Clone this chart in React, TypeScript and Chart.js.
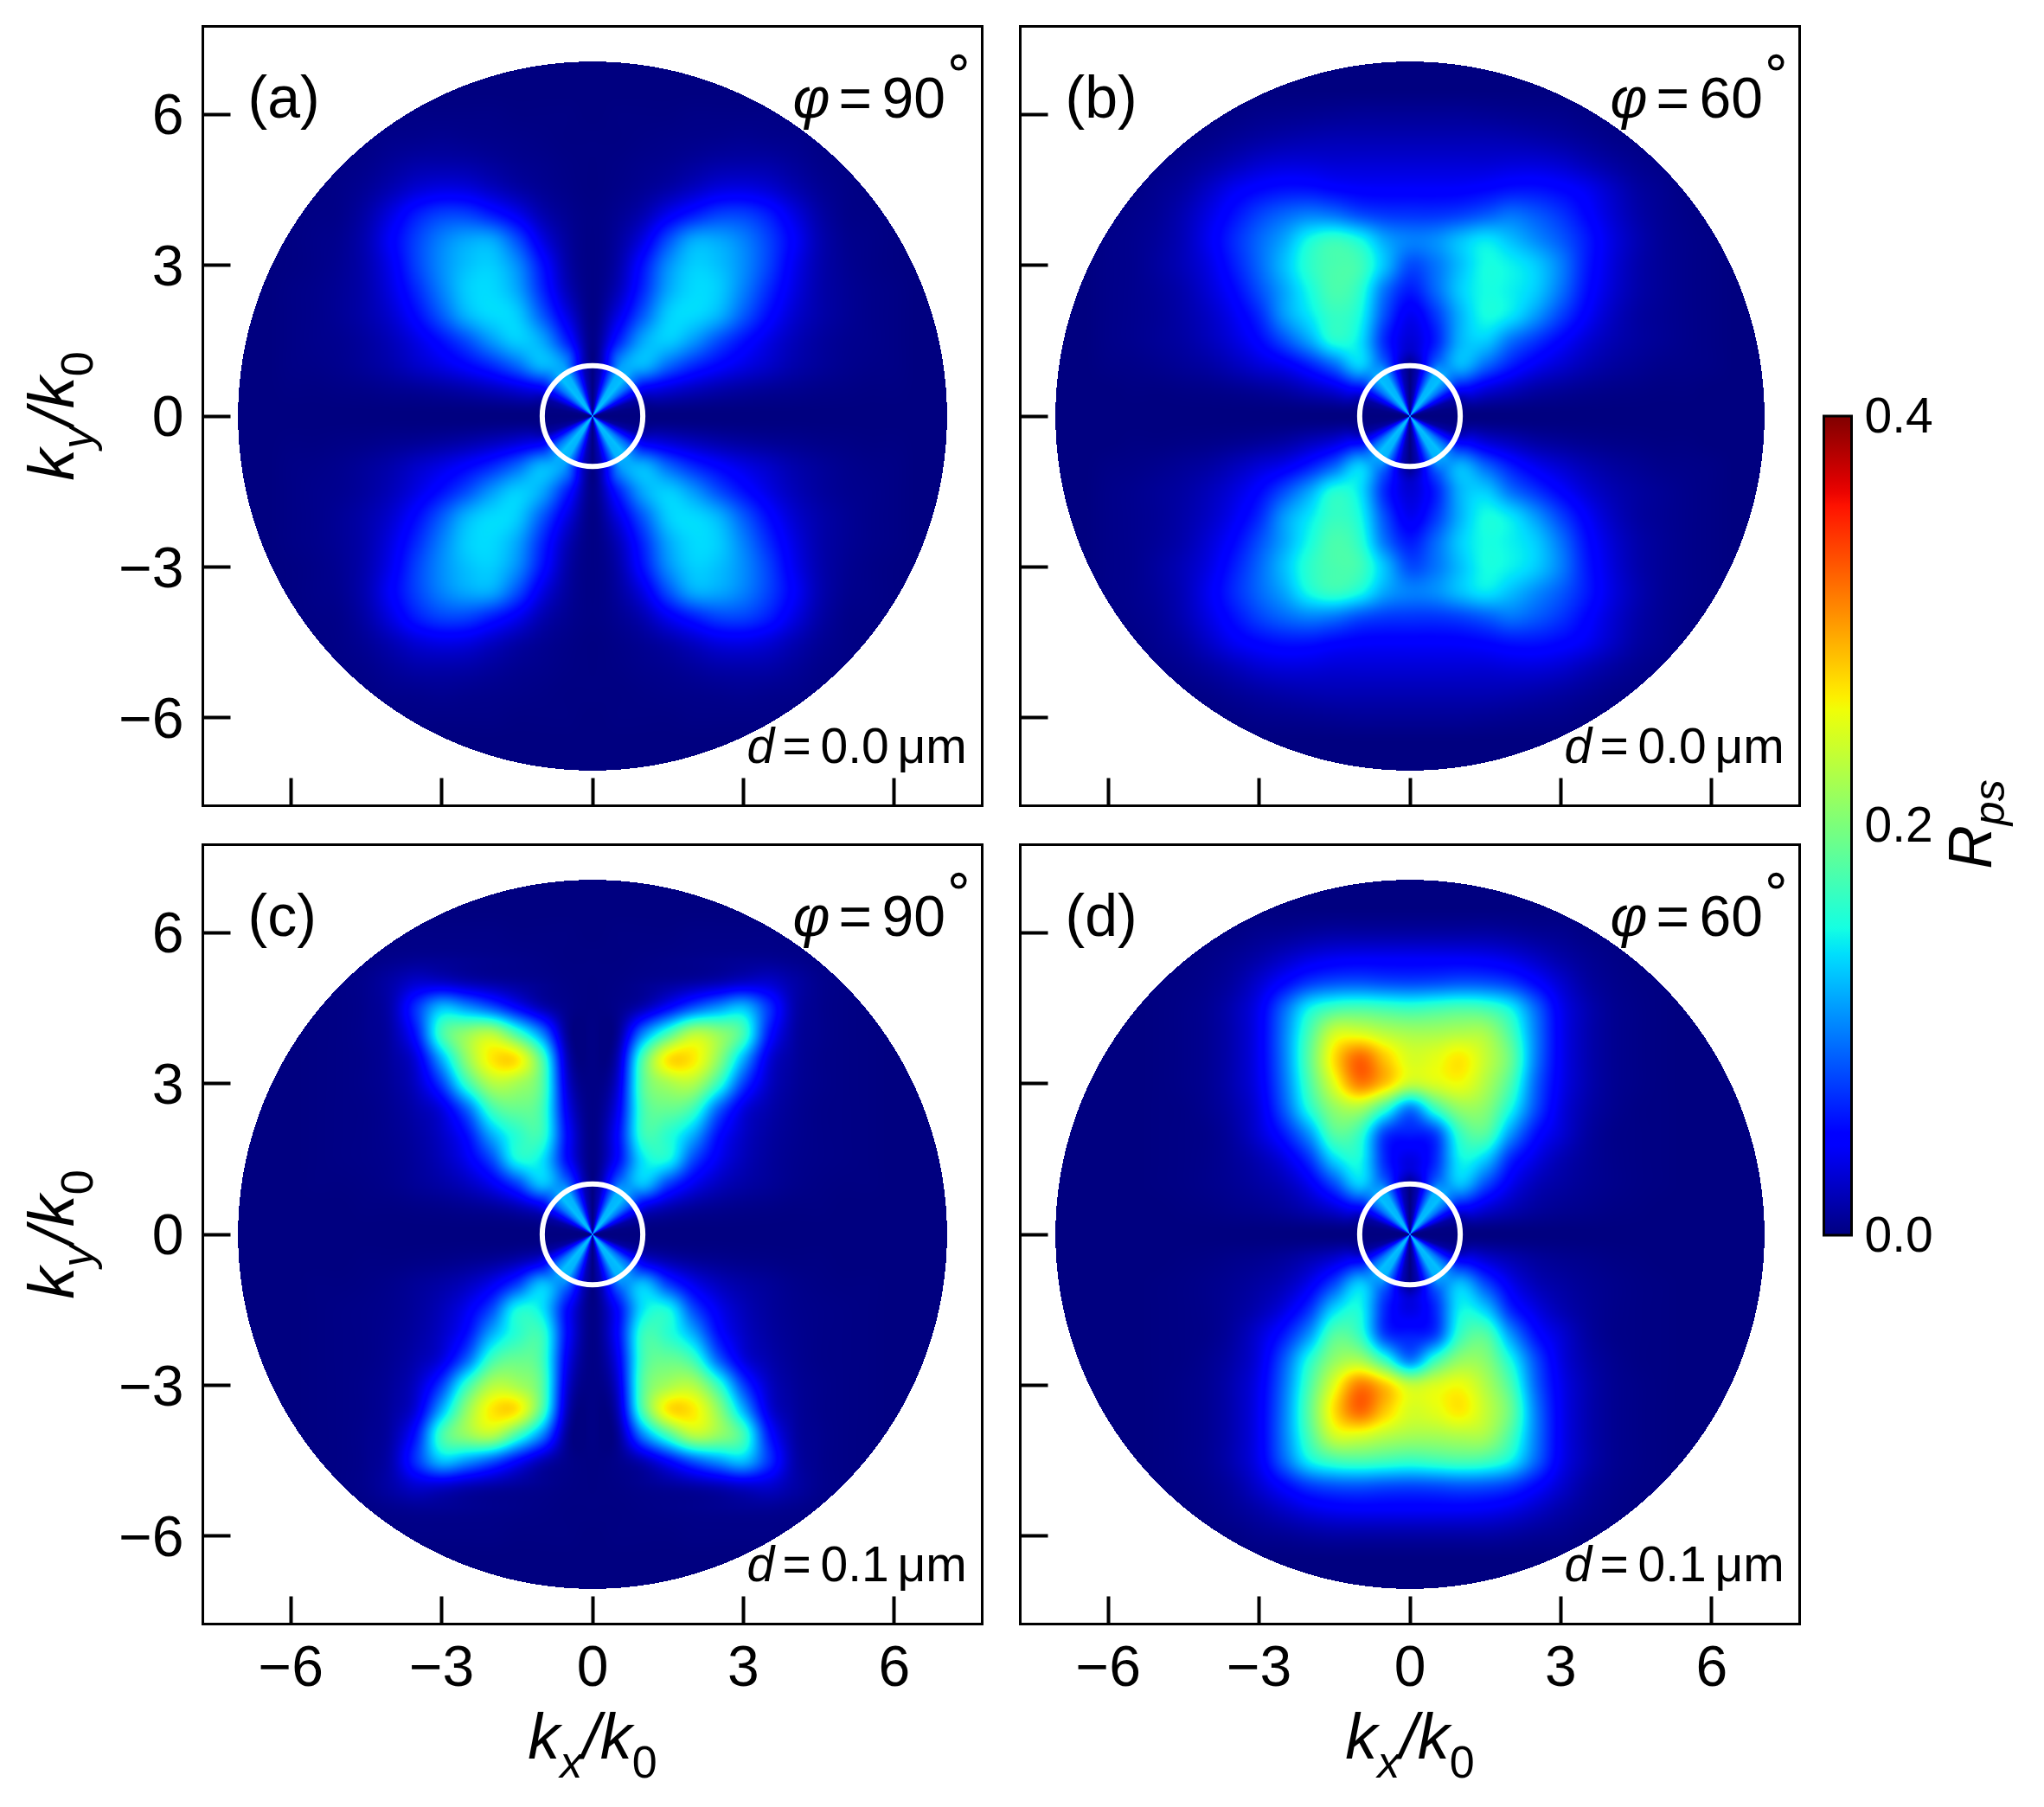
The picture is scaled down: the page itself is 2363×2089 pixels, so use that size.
import React, { useEffect, useRef } from "react";
import { Chart, registerables } from "chart.js";

Chart.register(...registerables);

// ---------- data (Rps values) ----------
const tickValues = [-6, -3, 0, 3, 6];
const colorbarTicks = [0, 0.2, 0.4];
const colorMax = 0.4;
const gridKx = [-6, -5.5, -5, -4.5, -4, -3.5, -3, -2.5, -2, -1.5, -1, -0.5, 0, 0.5, 1, 1.5, 2, 2.5, 3, 3.5, 4, 4.5, 5, 5.5, 6];
const gridKy = [0, 0.5, 1, 1.5, 2, 2.5, 3, 3.5, 4, 4.5, 5, 5.5, 6];
const spokeAngles = [0, 10, 20, 30, 40, 50, 60, 70, 80, 90];
const spokeValues = [0, 0.002, 0.012, 0.05, 0.095, 0.125, 0.12, 0.07, 0.02, 0];

// Panels (a), (c): one quadrant, kx = 0..6 along a row, ky = 0..6 down the rows
const panelA = [
  [0, 0, 0, 0, 0, 0, 0, 0, 0, 0, 0, 0, 0],
  [0, .07, .04, .028, .02, .014, .01, .007, .005, .003, .002, .001, .001],
  [0, .10, .12, .09, .065, .048, .035, .025, .015, .009, .005, .003, .002],
  [.003, .06, .115, .13, .11, .08, .055, .035, .02, .011, .006, .004, .002],
  [.002, .035, .085, .13, .135, .12, .085, .052, .028, .015, .008, .004, .002],
  [.002, .02, .065, .115, .135, .13, .10, .065, .035, .016, .008, .004, .002],
  [.002, .014, .055, .105, .13, .125, .105, .075, .04, .017, .007, .003, .001],
  [.002, .01, .035, .08, .115, .115, .10, .075, .045, .018, .006, .003, .001],
  [.002, .006, .017, .04, .06, .075, .075, .06, .035, .014, .004, .002, .001],
  [.001, .003, .007, .014, .024, .034, .036, .03, .018, .008, .003, .001, 0],
  [.001, .002, .004, .006, .01, .014, .015, .014, .009, .004, .002, .001, 0],
  [.001, .001, .002, .003, .004, .005, .006, .005, .004, .002, .001, 0, 0],
  [0, .001, .001, .001, .002, .002, .002, .002, .001, .001, 0, 0, 0],
];
const panelC = [
  [0, 0, 0, 0, 0, 0, 0, 0, 0, 0, 0, 0, 0],
  [0, .06, .03, .015, .008, .005, .003, .002, .001, .001, 0, 0, 0],
  [0, .08, .125, .075, .04, .022, .013, .008, .004, .002, .001, .001, 0],
  [.002, .05, .14, .15, .08, .04, .02, .01, .005, .003, .002, .001, 0],
  [.002, .05, .165, .16, .12, .055, .025, .012, .006, .003, .002, .001, 0],
  [.002, .04, .17, .19, .17, .09, .035, .016, .007, .003, .002, .001, 0],
  [.002, .03, .18, .22, .225, .165, .075, .025, .009, .004, .002, .001, 0],
  [.002, .02, .175, .265, .265, .21, .12, .035, .011, .004, .002, .001, 0],
  [.002, .008, .10, .17, .225, .21, .17, .06, .014, .005, .002, .001, 0],
  [.001, .004, .02, .05, .085, .11, .125, .07, .017, .005, .002, .001, 0],
  [.001, .002, .005, .009, .014, .02, .028, .028, .014, .005, .002, .001, 0],
  [.001, .001, .002, .003, .004, .005, .006, .006, .004, .002, .001, 0, 0],
  [0, .001, .001, .001, .002, .002, .002, .002, .001, .001, 0, 0, 0],
];
// Panels (b), (d): upper half, kx = -6..6 along a row, ky = 0..6 down the rows
const panelB = [
  [0, 0, 0, 0, 0, 0, 0, 0, 0, 0, 0, 0, 0, 0, 0, 0, 0, 0, 0, 0, 0, 0, 0, 0, 0],
  [0, .001, .001, .002, .003, .005, .008, .012, .02, .03, .05, .07, 0, .07, .05, .03, .02, .012, .008, .005, .003, .002, .001, .001, 0],
  [.002, .003, .005, .008, .012, .02, .03, .04, .06, .09, .13, .08, .02, .08, .12, .09, .06, .04, .028, .018, .011, .007, .004, .003, .002],
  [.003, .005, .008, .012, .02, .032, .05, .08, .115, .155, .14, .065, .03, .06, .12, .13, .095, .07, .048, .03, .018, .011, .007, .004, .002],
  [.003, .005, .008, .014, .024, .04, .065, .11, .14, .165, .15, .08, .04, .07, .12, .15, .14, .11, .075, .045, .024, .012, .007, .004, .002],
  [.003, .005, .009, .016, .03, .05, .08, .115, .15, .175, .16, .095, .06, .09, .13, .15, .145, .13, .095, .055, .03, .015, .008, .004, .002],
  [.003, .005, .011, .02, .035, .06, .09, .125, .16, .175, .17, .125, .08, .095, .125, .15, .145, .13, .10, .06, .033, .016, .008, .004, .002],
  [.003, .005, .01, .02, .04, .065, .09, .115, .15, .165, .15, .115, .10, .105, .125, .14, .125, .105, .085, .06, .035, .018, .008, .004, .002],
  [.002, .004, .008, .018, .035, .055, .075, .09, .10, .095, .08, .072, .07, .07, .075, .085, .095, .085, .07, .05, .03, .015, .007, .003, .001],
  [.001, .002, .006, .012, .025, .04, .05, .056, .056, .05, .046, .045, .045, .045, .046, .05, .056, .056, .05, .04, .025, .012, .006, .002, .001],
  [.001, .001, .003, .006, .012, .02, .028, .032, .032, .03, .03, .03, .03, .03, .03, .03, .032, .032, .028, .02, .012, .006, .003, .001, 0],
  [0, .001, .001, .002, .004, .008, .012, .015, .017, .018, .018, .018, .018, .018, .018, .018, .017, .015, .012, .008, .004, .002, .001, 0, 0],
  [0, 0, 0, .001, .001, .002, .004, .005, .006, .007, .008, .008, .008, .008, .008, .007, .006, .005, .004, .002, .001, 0, 0, 0, 0],
];
const panelD = [
  [0, 0, 0, 0, 0, 0, 0, 0, 0, 0, 0, 0, 0, 0, 0, 0, 0, 0, 0, 0, 0, 0, 0, 0, 0],
  [0, 0, 0, .001, .002, .004, .006, .01, .018, .03, .05, .075, 0, .075, .05, .03, .018, .01, .006, .004, .002, .001, 0, 0, 0],
  [0, 0, .001, .002, .004, .007, .012, .02, .04, .08, .13, .08, .03, .08, .125, .08, .04, .02, .012, .007, .004, .002, .001, 0, 0],
  [0, 0, .001, .002, .004, .009, .018, .035, .07, .135, .15, .065, .035, .065, .145, .13, .065, .035, .018, .009, .004, .002, .001, 0, 0],
  [0, 0, .001, .002, .004, .012, .03, .06, .11, .18, .165, .075, .06, .075, .165, .18, .11, .055, .03, .012, .004, .002, .001, 0, 0],
  [0, 0, .001, .002, .006, .015, .035, .085, .155, .21, .22, .165, .10, .165, .21, .205, .15, .08, .035, .015, .006, .002, .001, 0, 0],
  [0, 0, .001, .003, .007, .018, .04, .095, .175, .25, .31, .28, .235, .245, .255, .225, .175, .09, .04, .018, .007, .003, .001, 0, 0],
  [0, 0, .001, .003, .007, .018, .042, .10, .185, .27, .32, .28, .245, .25, .265, .235, .19, .10, .042, .018, .007, .003, .001, 0, 0],
  [0, 0, .001, .003, .007, .018, .042, .10, .175, .24, .245, .23, .22, .22, .225, .22, .175, .10, .042, .018, .007, .003, .001, 0, 0],
  [0, 0, .001, .003, .007, .018, .04, .09, .145, .17, .175, .17, .165, .17, .175, .17, .145, .09, .04, .018, .007, .003, .001, 0, 0],
  [0, 0, .001, .002, .005, .012, .028, .05, .072, .082, .084, .08, .078, .08, .084, .082, .072, .05, .028, .012, .005, .002, .001, 0, 0],
  [0, 0, 0, .001, .003, .007, .014, .024, .034, .04, .042, .042, .042, .042, .042, .04, .034, .024, .014, .007, .003, .001, 0, 0, 0],
  [0, 0, 0, 0, .001, .002, .005, .007, .01, .012, .012, .012, .012, .012, .012, .012, .01, .007, .005, .002, .001, 0, 0, 0, 0],
];

// ---------- points for the scatter datasets ----------
type Pt = { x: number; y: number; v: number };
function pointsFromRows(rows: number[][]): Pt[] {
  const pts: Pt[] = [];
  const half = rows[0].length === 25;
  rows.forEach((row, j) => {
    const ky = gridKy[j];
    row.forEach((v, i) => {
      const kx = half ? gridKx[i] : gridKy[i];
      const xs = half || kx === 0 ? [kx] : [kx, -kx];
      const ys = ky === 0 ? [ky] : [ky, -ky];
      xs.forEach((x) => ys.forEach((y) => pts.push({ x, y, v })));
    });
  });
  return pts;
}

// ---------- colour map ----------
const jetR: [number, number][] = [[0, 0], [0.35, 0], [0.66, 1], [0.89, 1], [1, 0.5]];
const jetG: [number, number][] = [[0, 0], [0.125, 0], [0.375, 1], [0.64, 1], [0.91, 0], [1, 0]];
const jetB: [number, number][] = [[0, 0.5], [0.11, 1], [0.34, 1], [0.65, 0], [1, 0]];
function ramp(stops: [number, number][], t: number) {
  for (let i = 1; i < stops.length; i++) {
    if (t <= stops[i][0]) {
      const [a, va] = stops[i - 1];
      const [b, vb] = stops[i];
      return va + ((vb - va) * (t - a)) / (b - a);
    }
  }
  return stops[stops.length - 1][1];
}
function jet(t: number): [number, number, number] {
  const c = Math.max(0, Math.min(1, t));
  return [ramp(jetR, c) * 255, ramp(jetG, c) * 255, ramp(jetB, c) * 255];
}

// ---------- heat map shading through the chart's scales ----------
const DISC_RADIUS = 7.05;
function catmull(p0: number, p1: number, p2: number, p3: number, t: number) {
  return 0.5 * (2 * p1 + (p2 - p0) * t + (2 * p0 - 5 * p1 + 4 * p2 - p3) * t * t + (3 * p1 - p0 - 3 * p2 + p3) * t * t * t);
}
function makeSampler(points: Pt[]) {
  const n = 25;
  const g = new Float64Array(n * n);
  points.forEach((p) => {
    g[Math.round((p.y + 6) * 2) * n + Math.round((p.x + 6) * 2)] = p.v;
  });
  const at = (i: number, j: number) => (i < 0 || j < 0 || i >= n || j >= n ? 0 : g[j * n + i]);
  return (x: number, y: number) => {
    const fx = (x + 6) * 2;
    const fy = (y + 6) * 2;
    const i = Math.floor(fx);
    const j = Math.floor(fy);
    const tx = fx - i;
    const ty = fy - j;
    const col = [0, 1, 2, 3].map((m) =>
      catmull(at(i - 1, j - 1 + m), at(i, j - 1 + m), at(i + 1, j - 1 + m), at(i + 2, j - 1 + m), tx)
    );
    return catmull(col[0], col[1], col[2], col[3], ty);
  };
}
function spokeAt(x: number, y: number) {
  const deg = (Math.atan2(Math.abs(y), Math.abs(x)) * 180) / Math.PI;
  const i = Math.min(spokeAngles.length - 2, Math.floor(deg / 10));
  const t = (deg - spokeAngles[i]) / 10;
  return spokeValues[i] + (spokeValues[i + 1] - spokeValues[i]) * t;
}

const heatPlugin = {
  id: "heat",
  beforeDatasetsDraw(chart: any) {
    const { x: xs, y: ys } = chart.scales;
    const sample = makeSampler(chart.data.datasets[0].data);
    const x0 = Math.floor(xs.getPixelForValue(-DISC_RADIUS));
    const x1 = Math.ceil(xs.getPixelForValue(DISC_RADIUS));
    const y0 = Math.floor(ys.getPixelForValue(DISC_RADIUS));
    const y1 = Math.ceil(ys.getPixelForValue(-DISC_RADIUS));
    const w = x1 - x0;
    const h = y1 - y0;
    const off = document.createElement("canvas");
    off.width = w;
    off.height = h;
    const octx = off.getContext("2d")!;
    const img = octx.createImageData(w, h);
    for (let py = 0; py < h; py++) {
      const ky = ys.getValueForPixel(y0 + py + 0.5);
      for (let px = 0; px < w; px++) {
        const kx = xs.getValueForPixel(x0 + px + 0.5);
        const r = Math.hypot(kx, ky);
        if (r > DISC_RADIUS) continue;
        let v = 0;
        if (r < 1.35) {
          const s = Math.max(0, Math.min(1, (r - 0.9) / 0.45));
          const bl = s * s * (3 - 2 * s);
          v = spokeAt(kx, ky) * (1 - bl) + (bl > 0 ? sample(kx, ky) * bl : 0);
        } else {
          v = sample(kx, ky);
        }
        const [cr, cg, cb] = jet(Math.max(0, v) / colorMax);
        const o = (py * w + px) * 4;
        img.data[o] = cr;
        img.data[o + 1] = cg;
        img.data[o + 2] = cb;
        img.data[o + 3] = 255;
      }
    }
    octx.putImageData(img, 0, 0);
    chart.ctx.drawImage(off, x0, y0);
    // white ring at |k| = k0
    const cx = xs.getPixelForValue(0);
    const cy = ys.getPixelForValue(0);
    const rad = Math.abs(xs.getPixelForValue(1) - cx);
    const ctx = chart.ctx;
    ctx.save();
    ctx.strokeStyle = "#fff";
    ctx.lineWidth = 6;
    ctx.beginPath();
    ctx.arc(cx, cy, rad, 0, Math.PI * 2);
    ctx.stroke();
    ctx.restore();
  },
};

// centre the digits of the vertical axis on their ticks
const labelNudgePlugin = {
  id: "labelNudge",
  beforeDraw(chart: any, _a: any, o: any) {
    const s = chart.scales.y;
    if (!s || !s.options.ticks.display) return;
    s.getLabelItems(chart.chartArea).forEach((it: any) => {
      it.options.translation[1] += o.dy ?? 3;
    });
  },
};

// ---------- text helpers ----------
const FAMILY = '"Liberation Sans", Arial, sans-serif';
function put(ctx: CanvasRenderingContext2D, s: string, x: number, y: number, font: string) {
  ctx.font = font;
  ctx.fillText(s, x, y);
}
function frame(ctx: CanvasRenderingContext2D, a: any) {
  ctx.save();
  ctx.strokeStyle = "#000";
  ctx.lineWidth = 3;
  ctx.strokeRect(a.left, a.top, a.right - a.left, a.bottom - a.top);
  ctx.restore();
}
function ratioLabel(ctx: CanvasRenderingContext2D, sub: string) {
  const big = `italic 74px ${FAMILY}`;
  const small = `italic 52px ${FAMILY}`;
  const up = `52px ${FAMILY}`;
  ctx.font = big;
  const wk = ctx.measureText("k").width;
  const ws = ctx.measureText("/").width;
  ctx.font = small;
  const wsub = ctx.measureText(sub).width;
  ctx.font = up;
  const w0 = ctx.measureText("0").width;
  let x = -(2 * wk + ws + wsub + w0) / 2;
  put(ctx, "k", x, 0, big);
  x += wk;
  put(ctx, sub, x, 22, small);
  x += wsub;
  put(ctx, "/", x, 0, big);
  x += ws;
  put(ctx, "k", x, 0, big);
  x += wk;
  put(ctx, "0", x, 22, up);
}

const decorPlugin = {
  id: "decor",
  afterDraw(chart: any, _a: any, o: any) {
    const ctx: CanvasRenderingContext2D = chart.ctx;
    const a = chart.chartArea;
    frame(ctx, a);
    ctx.save();
    ctx.fillStyle = "#000";
    ctx.textAlign = "left";
    ctx.textBaseline = "alphabetic";
    const big = `66px ${FAMILY}`;
    const tag = `68px ${FAMILY}`;
    const bigI = `italic 66px ${FAMILY}`;
    const mid = `57px ${FAMILY}`;
    const midI = `italic 57px ${FAMILY}`;
    put(ctx, o.tag, a.left + 52, a.top + 105, tag);
    put(ctx, "φ", a.left + 682, a.top + 105, bigI);
    put(ctx, "=", a.left + 735, a.top + 105, big);
    put(ctx, o.phi, a.left + 785, a.top + 105, big);
    put(ctx, "∘", a.left + 855, a.top + 60, `60px "DejaVu Sans"`);
    put(ctx, "d", a.right - 272, a.bottom - 50, midI);
    put(ctx, "=", a.right - 231, a.bottom - 50, mid);
    put(ctx, o.d, a.right - 187, a.bottom - 50, mid);
    put(ctx, "μm", a.right - 98, a.bottom - 50, mid);
    if (o.xTitle) {
      ctx.save();
      ctx.translate((a.left + a.right) / 2, a.bottom + 155);
      ratioLabel(ctx, "x");
      ctx.restore();
    }
    if (o.yTitle) {
      ctx.save();
      ctx.translate(a.left - 150, (a.top + a.bottom) / 2);
      ctx.rotate(-Math.PI / 2);
      ratioLabel(ctx, "y");
      ctx.restore();
    }
    ctx.restore();
  },
};

const colorbarPlugin = {
  id: "cbdecor",
  afterDraw(chart: any) {
    const ctx: CanvasRenderingContext2D = chart.ctx;
    const a = chart.chartArea;
    frame(ctx, a);
    ctx.save();
    ctx.fillStyle = "#000";
    ctx.translate(a.right + 161, 953 - 440);
    ctx.rotate(-Math.PI / 2);
    const big = `italic 70px ${FAMILY}`;
    const small = `italic 50px ${FAMILY}`;
    ctx.font = big;
    const wr = ctx.measureText("R").width;
    ctx.font = small;
    const wp = ctx.measureText("ps").width;
    const x = -(wr + wp) / 2;
    put(ctx, "R", x, 0, big);
    put(ctx, "ps", x + wr, 15, small);
    ctx.restore();
  },
};

// ---------- components ----------
const fix = (v: number) => (v < 0 ? "\u2212" + Math.abs(v) : String(v));

type PanelProps = {
  rows: number[][];
  tag: string;
  phi: string;
  d: string;
  showX: boolean;
  showY: boolean;
  box: { left: number; top: number; width: number; height: number };
  plot: { left: number; right: number; top: number; bottom: number };
};

function Panel({ rows, tag, phi, d, showX, showY, box, plot }: PanelProps) {
  const ref = useRef<HTMLCanvasElement | null>(null);
  useEffect(() => {
    const marginLeft = plot.left - box.left;
    const marginBottom = box.top + box.height - plot.bottom;
    const axis = (labels: boolean, pad: number) => ({
      type: "linear",
      min: -7.75,
      max: 7.75,
      afterBuildTicks: (s: any) => {
        s.ticks = tickValues.map((value) => ({ value }));
      },
      grid: { drawOnChartArea: false, drawTicks: true, tickLength: -32, tickWidth: 4, tickColor: "#000" },
      border: { display: false },
      ticks: {
        display: labels,
        autoSkip: false,
        maxRotation: 0,
        padding: pad,
        color: "#000",
        font: { family: "Liberation Sans", size: 66 },
        callback: (v: number) => fix(v),
      },
    });
    const chart = new Chart(ref.current!, {
      type: "scatter",
      data: { datasets: [{ data: pointsFromRows(rows), pointRadius: 0, pointHoverRadius: 0 }] },
      options: {
        responsive: false,
        animation: false,
        events: [],
        layout: {
          padding: {
            left: 0,
            right: box.left + box.width - plot.right,
            top: plot.top - box.top,
            bottom: 0,
          },
        },
        scales: {
          x: {
            ...axis(showX, 46),
            afterFit: (s: any) => {
              s.height = marginBottom;
              s.paddingLeft = 0;
              s.paddingRight = 0;
            },
          },
          y: {
            ...axis(showY, 54),
            afterFit: (s: any) => {
              s.width = marginLeft;
              s.paddingTop = 0;
              s.paddingBottom = 0;
            },
          },
        },
        plugins: {
          legend: { display: false },
          tooltip: { enabled: false },
          labelNudge: { dy: 5 },
          decor: { tag, phi, d, xTitle: showX, yTitle: showY },
        },
      } as any,
      plugins: [labelNudgePlugin, heatPlugin, decorPlugin],
    } as any);
    return () => chart.destroy();
  }, []);
  return (
    <canvas
      ref={ref}
      width={box.width}
      height={box.height}
      style={{ position: "absolute", left: box.left, top: box.top, width: box.width, height: box.height }}
    />
  );
}

function Colorbar() {
  const ref = useRef<HTMLCanvasElement | null>(null);
  const box = { left: 2090, top: 440, width: 273, height: 1040 };
  useEffect(() => {
    const chart = new Chart(ref.current!, {
      type: "bar",
      data: {
        labels: ["Rps"],
        datasets: [
          {
            data: [colorMax],
            barPercentage: 1,
            categoryPercentage: 1,
            borderWidth: 0,
            backgroundColor: (c: any) => {
              const area = c.chart.chartArea;
              if (!area) return "#000";
              const g = c.chart.ctx.createLinearGradient(0, area.bottom, 0, area.top);
              for (let i = 0; i <= 64; i++) {
                const [r, gg, b] = jet(i / 64);
                g.addColorStop(i / 64, `rgb(${r},${gg},${b})`);
              }
              return g;
            },
          },
        ],
      },
      options: {
        responsive: false,
        animation: false,
        events: [],
        layout: { padding: { left: 18.5, right: 0, top: 41, bottom: 52 } },
        scales: {
          x: { display: false },
          y: {
            position: "right",
            min: 0,
            max: colorMax,
            afterBuildTicks: (s: any) => {
              s.ticks = colorbarTicks.map((value) => ({ value }));
            },
            afterFit: (s: any) => {
              s.width = 222.5;
              s.paddingTop = 0;
              s.paddingBottom = 0;
            },
            grid: { drawOnChartArea: false, drawTicks: false },
            border: { display: false },
            ticks: {
              autoSkip: false,
              maxRotation: 0,
              padding: 15,
              color: "#000",
              font: { family: "Liberation Sans", size: 57 },
              callback: (v: number) => v.toFixed(1),
            },
          },
        },
        plugins: { legend: { display: false }, tooltip: { enabled: false }, labelNudge: { dy: 3 } },
      } as any,
      plugins: [labelNudgePlugin, colorbarPlugin],
    } as any);
    return () => chart.destroy();
  }, []);
  return (
    <canvas
      ref={ref}
      width={box.width}
      height={box.height}
      style={{ position: "absolute", left: box.left, top: box.top, width: box.width, height: box.height }}
    />
  );
}

export default function App() {
  const topBox = { top: 0, height: 953 };
  const botBox = { top: 953, height: 1136 };
  const leftBox = { left: 0, width: 1157 };
  const rightBox = { left: 1157, width: 933 };
  const topPlot = { top: 30.5, bottom: 931.5 };
  const botPlot = { top: 976.5, bottom: 1877.5 };
  const leftPlot = { left: 234.5, right: 1135.5 };
  const rightPlot = { left: 1179.5, right: 2080.5 };
  return (
    <div style={{ position: "absolute", left: 0, top: 0, width: 2363, height: 2089, background: "#fff", overflow: "hidden" }}>
      <Panel rows={panelA} tag="(a)" phi="90" d="0.0" showX={false} showY={true} box={{ ...leftBox, ...topBox }} plot={{ ...leftPlot, ...topPlot }} />
      <Panel rows={panelB} tag="(b)" phi="60" d="0.0" showX={false} showY={false} box={{ ...rightBox, ...topBox }} plot={{ ...rightPlot, ...topPlot }} />
      <Panel rows={panelC} tag="(c)" phi="90" d="0.1" showX={true} showY={true} box={{ ...leftBox, ...botBox }} plot={{ ...leftPlot, ...botPlot }} />
      <Panel rows={panelD} tag="(d)" phi="60" d="0.1" showX={true} showY={false} box={{ ...rightBox, ...botBox }} plot={{ ...rightPlot, ...botPlot }} />
      <Colorbar />
    </div>
  );
}
